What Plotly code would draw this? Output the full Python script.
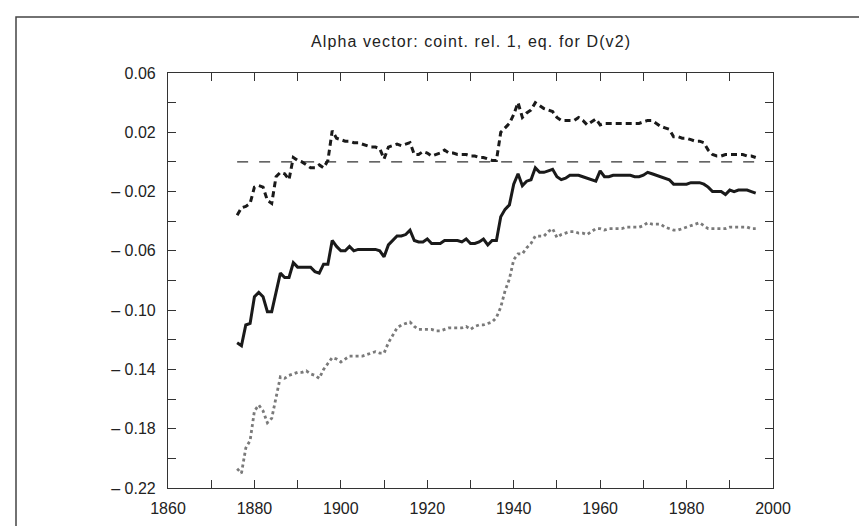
import plotly.graph_objects as go

years = list(range(1876, 1997))

dashed_vals = [
    -0.036, -0.031, -0.030, -0.028, -0.017, -0.016, -0.017, -0.026, -0.028, -0.010,
    -0.007, -0.008, -0.012, 0.003, 0.001, 0.000, -0.002, -0.004, -0.004, -0.002,
    -0.004, 0.001, 0.021, 0.016, 0.015, 0.014, 0.014, 0.013, 0.013, 0.012,
    0.011, 0.010, 0.010, 0.009, 0.002, 0.010, 0.011, 0.012, 0.011, 0.012,
    0.013, 0.005, 0.005, 0.007, 0.006, 0.004, 0.005, 0.006, 0.008, 0.006,
    0.006, 0.005, 0.005, 0.005, 0.004, 0.004, 0.003, 0.003, 0.002, 0.001,
    0.001, 0.020, 0.023, 0.026, 0.032, 0.040, 0.030, 0.033, 0.035, 0.040,
    0.038, 0.036, 0.035, 0.034, 0.030, 0.028, 0.028, 0.028, 0.028, 0.030,
    0.028, 0.025, 0.027, 0.029, 0.025, 0.026, 0.026, 0.026, 0.026, 0.026,
    0.026, 0.026, 0.026, 0.026, 0.027, 0.028, 0.028, 0.026, 0.024, 0.023,
    0.022, 0.017, 0.017, 0.016, 0.016, 0.015, 0.014, 0.014, 0.013, 0.008,
    0.005, 0.004, 0.004, 0.005, 0.005, 0.005, 0.005, 0.005, 0.004, 0.004,
    0.003,
]

solid_vals = [
    -0.122, -0.124, -0.110, -0.109, -0.091, -0.088, -0.091, -0.101, -0.101, -0.088,
    -0.075, -0.078, -0.078, -0.068, -0.071, -0.071, -0.071, -0.071, -0.074, -0.075,
    -0.069, -0.069, -0.053, -0.057, -0.060, -0.060, -0.057, -0.060, -0.059, -0.059,
    -0.059, -0.059, -0.059, -0.060, -0.064, -0.056, -0.053, -0.050, -0.050, -0.049,
    -0.046, -0.053, -0.054, -0.054, -0.052, -0.055, -0.055, -0.055, -0.053, -0.053,
    -0.053, -0.053, -0.054, -0.052, -0.055, -0.055, -0.054, -0.052, -0.056, -0.053,
    -0.053, -0.037, -0.032, -0.029, -0.015, -0.008, -0.016, -0.013, -0.012, -0.004,
    -0.007, -0.007, -0.006, -0.005, -0.010, -0.012, -0.011, -0.009, -0.009, -0.009,
    -0.010, -0.011, -0.012, -0.013, -0.006, -0.010, -0.010, -0.009, -0.009, -0.009,
    -0.009, -0.009, -0.010, -0.010, -0.009, -0.007, -0.008, -0.009, -0.010, -0.011,
    -0.012, -0.015, -0.015, -0.015, -0.015, -0.014, -0.014, -0.014, -0.015, -0.017,
    -0.020, -0.020, -0.020, -0.022, -0.019, -0.020, -0.019, -0.019, -0.019, -0.020,
    -0.021,
]

dotted_vals = [
    -0.207, -0.210, -0.193, -0.188, -0.168, -0.164, -0.168, -0.176, -0.173, -0.158,
    -0.145, -0.146, -0.144, -0.143, -0.142, -0.142, -0.141, -0.143, -0.144, -0.146,
    -0.140, -0.136, -0.132, -0.133, -0.135, -0.133, -0.131, -0.131, -0.131, -0.131,
    -0.130, -0.129, -0.128, -0.129, -0.129, -0.122, -0.117, -0.112, -0.110, -0.109,
    -0.108, -0.111, -0.113, -0.113, -0.113, -0.113, -0.114, -0.114, -0.113, -0.112,
    -0.112, -0.112, -0.112, -0.111, -0.113, -0.111, -0.110, -0.110, -0.109, -0.108,
    -0.105, -0.098, -0.087, -0.079, -0.066, -0.062, -0.062, -0.058, -0.055, -0.050,
    -0.050, -0.050, -0.047, -0.045, -0.051, -0.049, -0.048, -0.047, -0.047, -0.048,
    -0.048, -0.049, -0.047, -0.045, -0.045, -0.046, -0.045, -0.045, -0.045, -0.045,
    -0.044, -0.044, -0.044, -0.044, -0.043, -0.041, -0.042, -0.042, -0.042, -0.044,
    -0.045, -0.046, -0.046, -0.045, -0.044, -0.043, -0.042, -0.041, -0.043, -0.045,
    -0.045, -0.045, -0.045, -0.045, -0.044, -0.044, -0.044, -0.044, -0.044, -0.045,
    -0.045,
]

zero_line_years = [1876, 1996]
zero_line_vals = [0.0, 0.0]

title_text = "Alpha vector: coint. rel. 1, eq. for D(v2)"

x_tick_vals = list(range(1860, 2001, 10))
x_tick_text = ["1860", "", "1880", "", "1900", "", "1920", "", "1940", "", "1960", "", "1980", "", "2000"]

y_tick_vals = [0.06, 0.04, 0.02, 0.0, -0.02, -0.04, -0.06, -0.08, -0.10, -0.12, -0.14, -0.16, -0.18, -0.20, -0.22]
y_tick_text = ["0.06", "", "0.02", "", "\u2013 0.02", "", "\u2013 0.06", "", "\u2013 0.10", "", "\u2013 0.14", "", "\u2013 0.18", "", "\u2013 0.22"]

FONT = "Liberation Sans, Arial, sans-serif"

fig = go.Figure()

fig.add_trace(go.Scatter(
    x=zero_line_years, y=zero_line_vals, mode="lines",
    line=dict(color="#333333", width=1.3, dash="11px,11px"),
    hoverinfo="skip", showlegend=False,
))
fig.add_trace(go.Scatter(
    x=years, y=dotted_vals, mode="lines",
    line=dict(color="#7a7a7a", width=2.8, dash="3px,3px"),
    showlegend=False,
))
fig.add_trace(go.Scatter(
    x=years, y=solid_vals, mode="lines",
    line=dict(color="#1a1a1a", width=3),
    showlegend=False,
))
fig.add_trace(go.Scatter(
    x=years, y=dashed_vals, mode="lines",
    line=dict(color="#1a1a1a", width=3, dash="6px,4px"),
    showlegend=False,
))

pw, ph = 605.0, 415.0
left, top = 160.0, 65.0

def px_x(p):
    return (p - left) / pw

def px_y(p):
    return (top + ph - p) / ph

fig.add_shape(type="rect", xref="paper", yref="paper",
              x0=px_x(8), x1=px_x(859), y0=px_y(560), y1=px_y(9),
              line=dict(color="#444444", width=1.5), layer="below")

fig.add_annotation(text='<span style="letter-spacing:1.1px">' + title_text + '</span>',
                   xref="paper", yref="paper",
                   x=px_x(463), y=px_y(33), xanchor="center", yanchor="middle",
                   showarrow=False, font=dict(family=FONT, size=16, color="#222222"))

fig.update_layout(
    width=867, height=526,
    margin=dict(l=160, r=102, t=65, b=46),
    paper_bgcolor="white", plot_bgcolor="white",
    font=dict(family=FONT, size=16, color="#222222"),
    showlegend=False,
)
fig.update_xaxes(
    range=[1860, 2000], tickmode="array", tickvals=x_tick_vals, ticktext=x_tick_text,
    ticks="inside", ticklen=8, tickwidth=1, tickcolor="#333333",
    showline=True, linecolor="#333333", linewidth=1.2, mirror="ticks",
    showgrid=False, zeroline=False, ticklabelstandoff=6,
)
fig.update_yaxes(
    range=[-0.22, 0.06], tickmode="array", tickvals=y_tick_vals, ticktext=y_tick_text,
    ticks="inside", ticklen=8, tickwidth=1, tickcolor="#333333",
    showline=True, linecolor="#333333", linewidth=1.2, mirror="ticks",
    showgrid=False, zeroline=False, ticklabelstandoff=8,
)

fig.write_html("out.html")
